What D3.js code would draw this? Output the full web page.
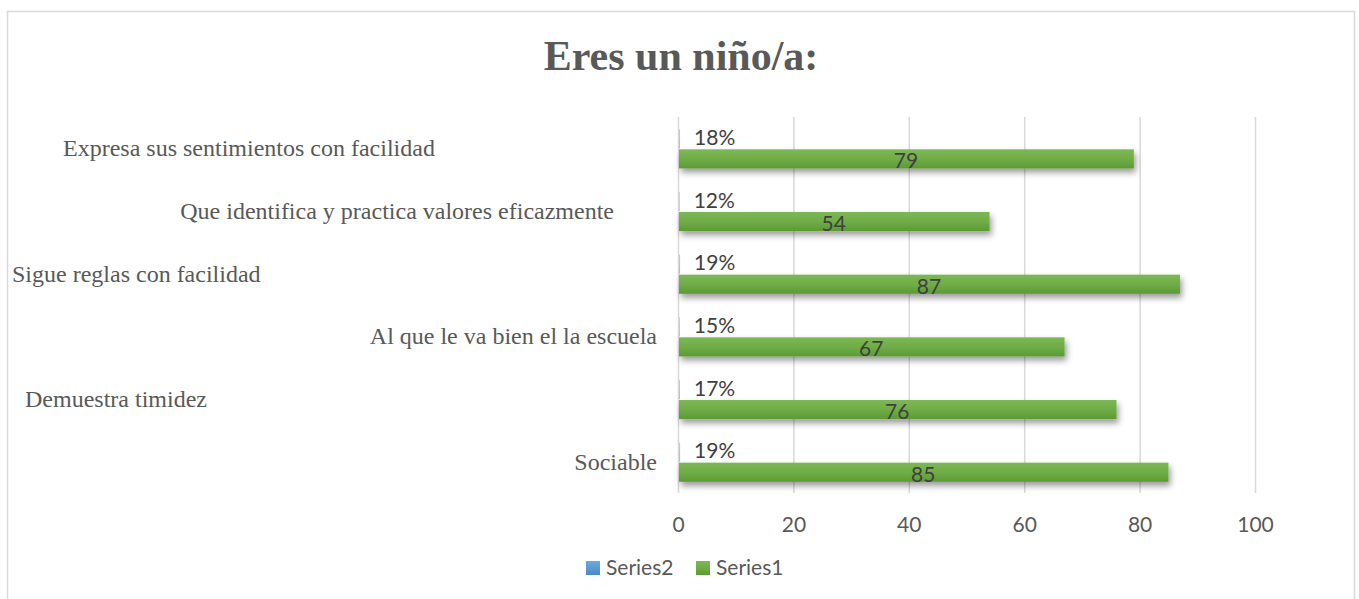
<!DOCTYPE html>
<html>
<head>
<meta charset="utf-8">
<script src="https://cdn.jsdelivr.net/npm/d3@7"></script>
<style>
  html, body { margin: 0; padding: 0; background: #fff; }
  svg { display: block; }
</style>
</head>
<body>
<svg id="chart" width="1359" height="599"></svg>
<script>
// ---- Data ----
const title = "Eres un niño/a:";
const categories = [
  "Sociable",
  "Demuestra timidez",
  "Al que le va bien el la escuela",
  "Sigue reglas con facilidad",
  "Que identifica y practica valores eficazmente",
  "Expresa sus sentimientos con facilidad"
];
const series1 = [85, 76, 67, 87, 54, 79];
const series2 = [0.19, 0.17, 0.15, 0.19, 0.12, 0.18];
const seriesNames = ["Series2", "Series1"];
const xTicks = [0, 20, 40, 60, 80, 100];

// ---- Layout / style (not data) ----
const labelLayout = [
  { anchor: "end",   x: 657 },
  { anchor: "start", x: 25 },
  { anchor: "end",   x: 657 },
  { anchor: "start", x: 12 },
  { anchor: "end",   x: 614 },
  { anchor: "start", x: 63 }
];

const svg = d3.select("#chart");
const W = 1359, H = 599;
const margin = { left: 678, right: 104, top: 117, bottom: 106 };
const plotR = W - margin.right;   // 1255
const plotB = H - margin.bottom;  // 493
const sansFont = "Lato, 'Open Sans', sans-serif";

const defs = svg.append("defs");
function grad(id, c1, c2, c3) {
  const g = defs.append("linearGradient").attr("id", id)
    .attr("x1", 0).attr("y1", 0).attr("x2", 0).attr("y2", 1);
  g.append("stop").attr("offset", "0%").attr("stop-color", c1);
  g.append("stop").attr("offset", "50%").attr("stop-color", c2);
  g.append("stop").attr("offset", "100%").attr("stop-color", c3);
}
grad("gGreen", "#7cb855", "#70ad47", "#5c9a34");
grad("gBlue", "#6ea8dc", "#5b9bd5", "#4a89c4");
const f = defs.append("filter").attr("id", "shadow")
  .attr("x", "-5%").attr("y", "-60%").attr("width", "115%").attr("height", "280%");
f.append("feDropShadow").attr("dx", 2).attr("dy", 4).attr("stdDeviation", 3)
  .attr("flood-color", "#000").attr("flood-opacity", 0.4);

// Border
svg.append("rect").attr("x", 7.5).attr("y", 11.5).attr("width", 1347).attr("height", 600)
  .attr("fill", "#fff").attr("stroke", "#d9d9d9").attr("stroke-width", 1.5);

// Title
svg.append("text").attr("x", 681).attr("y", 70)
  .attr("text-anchor", "middle")
  .attr("font-family", "'Liberation Serif', 'Times New Roman', serif")
  .attr("font-weight", "bold").attr("font-size", 42).attr("fill", "#595959")
  .text(title);

// Scales
const x = d3.scaleLinear().domain([0, 100]).range([margin.left, plotR]);
const y = d3.scaleBand().domain(d3.range(categories.length).reverse())
  .range([margin.top, plotB]).paddingInner(0.39).paddingOuter(0.195);
const ySub = d3.scaleBand().domain([0, 1]).range([0, y.bandwidth()]);

// Gridlines via axis
const gridAxis = d3.axisBottom(x).tickValues(xTicks).tickSize(-(plotB - margin.top)).tickFormat("");
const grid = svg.append("g").attr("transform", `translate(0,${plotB})`).call(gridAxis);
grid.select(".domain").remove();
grid.selectAll(".tick line").attr("stroke", "#d9d9d9").attr("stroke-width", 1.5);

// Tick labels via axis
const tickAxis = d3.axisBottom(x).tickValues(xTicks).tickSize(0).tickPadding(0);
const tg = svg.append("g").attr("transform", `translate(0,525)`).call(tickAxis);
tg.select(".domain").remove();
tg.selectAll(".tick text")
  .attr("dy", "0.35em").attr("y", 0)
  .attr("font-family", sansFont).attr("font-size", 21)
  .attr("fill", "#595959");

// Bars: Series2 (top half, tiny)
const gBars = svg.append("g");
gBars.selectAll(".s2").data(series2).join("rect")
  .attr("x", x(0) + 1)
  .attr("y", (d, i) => y(i) + ySub(0))
  .attr("width", d => Math.max(0, x(d) - x(0)))
  .attr("height", ySub.bandwidth())
  .attr("fill", "url(#gBlue)").attr("opacity", 0.5);

// Series1 (bottom half)
gBars.selectAll(".s1").data(series1).join("rect")
  .attr("x", x(0) + 1)
  .attr("y", (d, i) => y(i) + ySub(1) + 1)
  .attr("width", d => x(d) - x(0) - 1)
  .attr("height", ySub.bandwidth())
  .attr("fill", "url(#gGreen)").attr("filter", "url(#shadow)");

// Series1 labels (centered)
svg.append("g").selectAll("text").data(series1).join("text")
  .attr("x", d => (x(0) + x(d)) / 2)
  .attr("y", (d, i) => y(i) + ySub(1) + ySub.bandwidth() / 2 + 3)
  .attr("dy", "0.35em").attr("text-anchor", "middle")
  .attr("font-family", sansFont).attr("font-size", 21)
  .attr("fill", "#404040")
  .text(d => d);

// Series2 labels (outside end)
svg.append("g").selectAll("text").data(series2).join("text")
  .attr("x", d => x(d) + 15)
  .attr("y", (d, i) => y(i) + ySub(0) + ySub.bandwidth() / 2 - 1)
  .attr("dy", "0.35em").attr("text-anchor", "start")
  .attr("font-family", sansFont).attr("font-size", 21)
  .attr("fill", "#404040")
  .text(d => d3.format(".0%")(d));

// Category labels
svg.append("g").selectAll("text").data(categories).join("text")
  .attr("x", (d, i) => labelLayout[i].x)
  .attr("y", (d, i) => y(i) + y.bandwidth() / 2)
  .attr("dy", "0.33em")
  .attr("text-anchor", (d, i) => labelLayout[i].anchor)
  .attr("font-family", "'Liberation Serif', 'Times New Roman', serif")
  .attr("font-size", 24).attr("fill", "#595959")
  .text(d => d);

// Legend
const legendItems = [
  { name: seriesNames[0], fill: "url(#gBlue)", x: 586 },
  { name: seriesNames[1], fill: "url(#gGreen)", x: 696 }
];
const lg = svg.append("g");
const li = lg.selectAll("g").data(legendItems).join("g")
  .attr("transform", d => `translate(${d.x},561)`);
li.append("rect").attr("width", 14).attr("height", 14).attr("fill", d => d.fill);
li.append("text").attr("x", 20).attr("y", 7).attr("dy", "0.35em")
  .attr("font-family", sansFont).attr("font-size", 21)
  .attr("fill", "#595959").text(d => d.name);
</script>
</body>
</html>
